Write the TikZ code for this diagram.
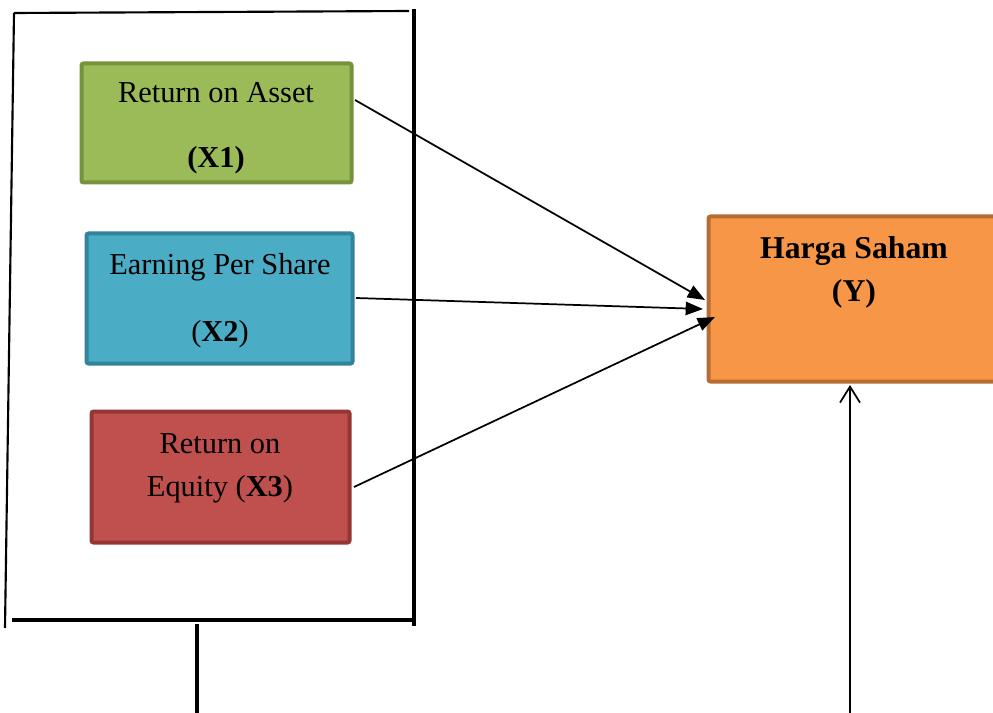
\documentclass[tikz,border=0pt]{standalone}
\usepackage{fontspec}
\setmainfont{Liberation Serif}
\usetikzlibrary{arrows.meta}
\definecolor{roaFill}{HTML}{9BBB59}
\definecolor{roaLine}{HTML}{76923C}
\definecolor{epsFill}{HTML}{4BACC6}
\definecolor{epsLine}{HTML}{31849B}
\definecolor{roeFill}{HTML}{C0504D}
\definecolor{roeLine}{HTML}{943634}
\definecolor{ysFill}{HTML}{F79646}
\definecolor{ysLine}{HTML}{B66D31}
\tikzset{
  varbox/.style={draw=#1Line, fill=#1Fill, line width=3pt, rounded corners=1.5pt,
    rectangle, inner sep=0pt},
  lbl/.style={anchor=base, inner sep=0pt, font=\fontsize{22.8}{26}\selectfont},
  frameline/.style={line width=2pt, line cap=rect},
  link/.style={line width=1.3pt, -{Triangle[length=13pt,width=10pt]}},
  feed/.style={line width=1.3pt, -{Straight Barb[length=12pt,width=15pt,line width=1.3pt]}}
}
\begin{document}
\begin{tikzpicture}[x=0.75pt, y=-0.75pt]
\clip (0,0) rectangle (993,713);
\fill[white] (0,0) rectangle (993,713);

% outer frame around the independent variables
\draw[line width=1.6pt] (14,13) -- (409,11);
\draw[line width=1.6pt] (14,13) -- (5,628);
\draw[frameline, line width=2.4pt] (414,11) -- (414,624);
\draw[frameline, line width=2.4pt] (14,620) -- (414,620);
\draw[line width=2.4pt] (197,624) -- (197,713);

% variable boxes
\node[varbox=roa, minimum width=202.5pt, minimum height=89.25pt] (x1) at (216.5,123) {};
\node[varbox=eps, minimum width=199.5pt, minimum height=97.5pt] (x2) at (219.5,298.5) {};
\node[varbox=roe, minimum width=193.5pt, minimum height=98.25pt] (x3) at (220.5,477) {};
\node[varbox=ys,  minimum width=225pt, minimum height=123.75pt] (y) at (858.5,299) {};

% box texts
\node[lbl] (x1a) at (216,103) {Return on Asset};
\node[lbl] (x1b) at (216,168) {\textbf{(X1)}};
\node[lbl] (x2a) at (220,274) {Earning Per Share};
\node[lbl] (x2b) at (220,341) {(\textbf{X2})};
\node[lbl] (x3a) at (220,453) {Return on};
\node[lbl] (x3b) at (220,496) {Equity (\textbf{X3})};
\node[lbl, font=\fontsize{23.8}{26}\selectfont\bfseries] (ya) at (854,258) {Harga Saham};
\node[lbl, font=\fontsize{23.8}{26}\selectfont\bfseries] (yb) at (854,301) {(Y)};

% arrow targets on the dependent variable
\coordinate (t1) at (705,300);
\coordinate (t2) at (703,309);
\coordinate (t3) at (715,317);
\coordinate (s1) at (355,100);
\coordinate (s2) at (356,298);
\coordinate (s3) at (354,487);
\coordinate (yin) at (850,385);
\coordinate (bottom) at (850,713);

\draw[link] (s1) -- (t1);
\draw[link] (s2) -- (t2);
\draw[link] (s3) -- (t3);
\draw[feed] (bottom) -- (yin);
\end{tikzpicture}
\end{document}
